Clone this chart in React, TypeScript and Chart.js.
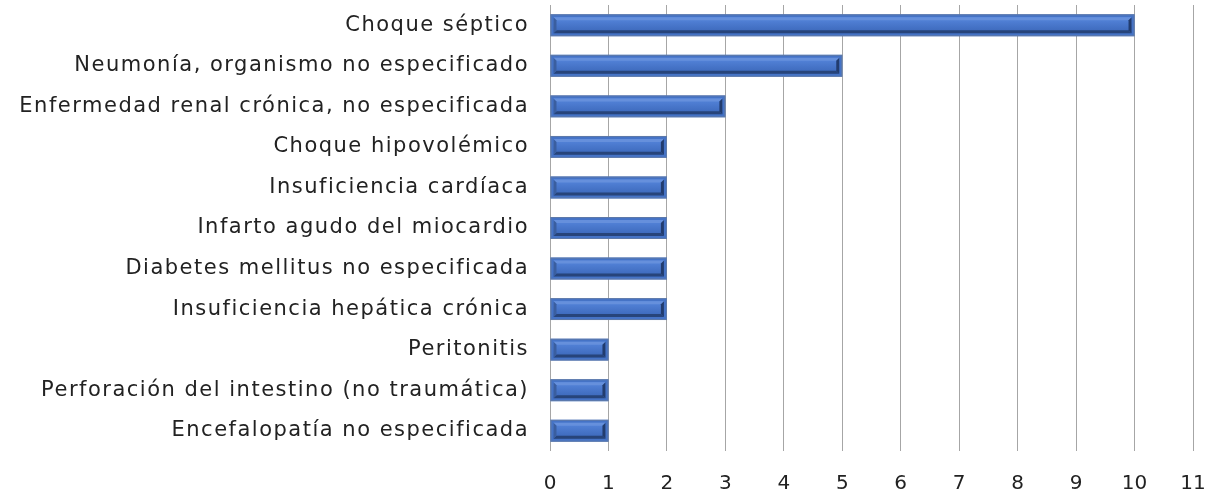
import React, { useEffect, useRef } from "react";
import { Chart, registerables } from "chart.js";

Chart.register(...registerables);

const categories = [
  "Choque séptico",
  "Neumonía, organismo no especificado",
  "Enfermedad renal crónica, no especificada",
  "Choque hipovolémico",
  "Insuficiencia cardíaca",
  "Infarto agudo del miocardio",
  "Diabetes mellitus no especificada",
  "Insuficiencia hepática crónica",
  "Peritonitis",
  "Perforación del intestino (no traumática)",
  "Encefalopatía no especificada",
];

const values = [10, 5, 3, 2, 2, 2, 2, 2, 1, 1, 1];

const xMin = 0;
const xMax = 11;
const xStep = 1;

const spacingPlugin = {
  id: "spacing",
  beforeDraw(chart: any) {
    (chart.ctx as any).letterSpacing = "1.5px";
  },
};

const bevelPlugin = {
  id: "bevel",
  afterDatasetsDraw(chart: any) {
    const ctx = chart.ctx;
    chart.data.datasets.forEach((_ds: any, i: number) => {
      const meta = chart.getDatasetMeta(i);
      meta.data.forEach((el: any) => {
        const p = el.getProps(["x", "y", "base", "height"], true);
        const L = Math.min(p.x, p.base);
        const R = Math.max(p.x, p.base);
        const T = p.y - p.height / 2;
        const B = p.y + p.height / 2;
        const inset = 3;
        const l = L + inset;
        const r = R - inset;
        const t = T + inset;
        const bt = B - inset;
        const b = 3;
        ctx.save();
        const g = ctx.createLinearGradient(0, t, 0, bt);
        g.addColorStop(0, "#5686dc");
        g.addColorStop(1, "#3a66b8");
        ctx.fillStyle = g;
        ctx.fillRect(l, t, r - l, bt - t);
        const poly = (pts: number[][], color: string) => {
          ctx.beginPath();
          ctx.moveTo(pts[0][0], pts[0][1]);
          for (let k = 1; k < pts.length; k++) ctx.lineTo(pts[k][0], pts[k][1]);
          ctx.closePath();
          ctx.fillStyle = color;
          ctx.fill();
        };
        poly([[l, t], [r, t], [r - b, t + b], [l + b, t + b]], "#6690dc");
        poly([[l, bt], [r, bt], [r - b, bt - b], [l + b, bt - b]], "#27447a");
        poly([[l, t], [l + b, t + b], [l + b, bt - b], [l, bt]], "#3a5e9f");
        poly([[r, t], [r - b, t + b], [r - b, bt - b], [r, bt]], "#223c6e");
        ctx.strokeStyle = "#5f7aa8";
        ctx.lineWidth = 1;
        ctx.strokeRect(L + 0.5, T + 0.5, R - L - 1, B - T - 1);
        ctx.restore();
      });
    });
    (ctx as any).letterSpacing = "0px";
  },
};

export default function App() {
  const ref = useRef<HTMLCanvasElement | null>(null);
  useEffect(() => {
    document.body.style.margin = "0";
    if (!ref.current) return;
    const chart = new Chart(ref.current, {
      type: "bar",
      data: {
        labels: categories,
        datasets: [
          {
            data: values,
            backgroundColor: "#4573c6",
            borderWidth: 0,
            barPercentage: 0.9,
            categoryPercentage: 0.6,
          },
        ],
      },
      options: {
        indexAxis: "y",
        animation: false,
        responsive: false,
        maintainAspectRatio: false,
        layout: { padding: { top: 5, right: 27, bottom: 0, left: 0 } },
        plugins: { legend: { display: false }, tooltip: { enabled: false } },
        scales: {
          x: {
            min: xMin,
            max: xMax,
            ticks: {
              stepSize: xStep,
              padding: 21,
              z: 1,
              color: "#222",
              font: { family: "'DejaVu Sans'", size: 20 },
            },
            grid: { color: "#a6a6a6", lineWidth: 1, drawTicks: false },
            border: { display: false },
            afterFit: (scale: any) => {
              scale.height = 42;
              scale.paddingLeft = 0;
              scale.paddingRight = 0;
            },
          },
          y: {
            ticks: {
              padding: 21,
              color: "#222",
              font: { family: "'DejaVu Sans'", size: 21 },
            },
            grid: { display: false, drawTicks: false },
            border: { display: false },
            afterFit: (scale: any) => {
              scale.width = 550;
              scale.paddingTop = 0;
              scale.paddingBottom = 0;
            },
          },
        },
      },
      plugins: [spacingPlugin, bevelPlugin],
    });
    return () => chart.destroy();
  }, []);
  return (
    <div style={{ width: 1220, height: 493 }}>
      <canvas ref={ref} width={1220} height={493} style={{ display: "block" }} />
    </div>
  );
}
